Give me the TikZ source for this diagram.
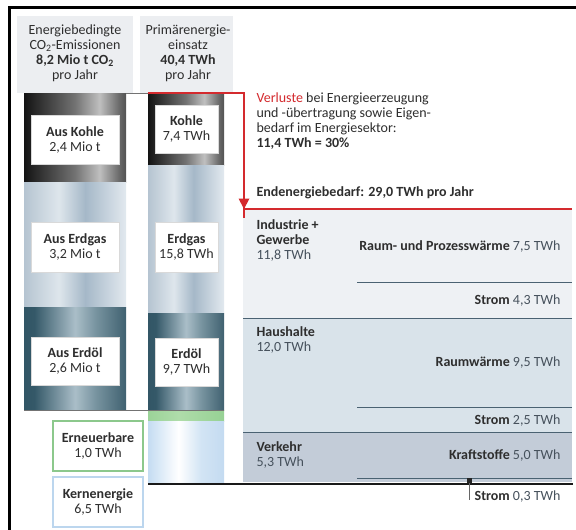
\documentclass[tikz,border=0pt]{standalone}
\usepackage{fontspec}
\setmainfont{Carlito}
\usetikzlibrary{arrows.meta}
\definecolor{hdrbg}{HTML}{ECEEF1}
\definecolor{txt}{HTML}{2E2E2E}
\definecolor{val}{HTML}{46515C}
\definecolor{redl}{HTML}{D42A2E}
\definecolor{indbg}{HTML}{EEF1F4}
\definecolor{haubg}{HTML}{D9E3EA}
\definecolor{verbg}{HTML}{C3CCD8}
\definecolor{divl}{HTML}{4A6272}
\definecolor{greenb}{HTML}{8CC88C}
\definecolor{blueb}{HTML}{BCD6EE}
\pgfdeclarehorizontalshading{coalsh}{100bp}{color(0bp)=(black); color(20bp)=(black); color(50bp)=(black!55); color(62bp)=(white!75!black); color(72bp)=(black!60); color(88bp)=(black); color(100bp)=(black)}
\pgfdeclarehorizontalshading{gassh}{100bp}{color(0bp)=({rgb,255:red,128;green,150;blue,170}); color(12bp)=({rgb,255:red,150;green,170;blue,188}); color(42bp)=({rgb,255:red,222;green,230;blue,236}); color(55bp)=({rgb,255:red,165;green,184;blue,200}); color(75bp)=({rgb,255:red,226;green,233;blue,239}); color(90bp)=({rgb,255:red,150;green,170;blue,188}); color(100bp)=({rgb,255:red,128;green,150;blue,170})}
\pgfdeclarehorizontalshading{oilsh}{100bp}{color(0bp)=({rgb,255:red,40;green,74;blue,90}); color(30bp)=({rgb,255:red,52;green,88;blue,104}); color(50bp)=({rgb,255:red,170;green,190;blue,200}); color(60bp)=({rgb,255:red,120;green,148;blue,160}); color(80bp)=({rgb,255:red,45;green,80;blue,96}); color(100bp)=({rgb,255:red,38;green,70;blue,86})}
\pgfdeclarehorizontalshading{nucsh}{100bp}{color(0bp)=({rgb,255:red,182;green,210;blue,238}); color(25bp)=({rgb,255:red,196;green,220;blue,242}); color(45bp)=(white); color(60bp)=({rgb,255:red,210;green,228;blue,244}); color(85bp)=({rgb,255:red,186;green,212;blue,238}); color(100bp)=({rgb,255:red,176;green,206;blue,236})}
\pgfdeclarehorizontalshading{greensh}{100bp}{color(0bp)=({rgb,255:red,130;green,200;blue,130}); color(45bp)=({rgb,255:red,175;green,220;blue,170}); color(100bp)=({rgb,255:red,130;green,200;blue,130})}
\tikzset{
  basefont/.style={font=\fontsize{14}{15}\selectfont},
  colbox/.style={fill=white, draw=black!15, line width=0.4pt, align=center, text=txt, inner sep=0pt},
  hdr/.style={align=center, text=txt, basefont},
  lefttxt/.style={anchor=west, align=left, text=txt, basefont},
  righttxt/.style={anchor=east, align=right, text=txt, basefont},
  divider/.style={draw=divl, line width=0.9pt},
  redline/.style={draw=redl, line width=1.4pt},
  srcbox/.style={fill=white, line width=1.3pt, align=center, text=txt, inner sep=0pt, minimum width=90pt, minimum height=50pt, basefont}
}
\newcommand{\vv}[1]{{\color{val}#1}}
\begin{document}
\begin{tikzpicture}[x=1pt,y=-1pt]
\useasboundingbox (0,0) rectangle (576,530);
\fill[white] (0,0) rectangle (576,530);
% frame
\draw[line width=2.6pt] (9.3,530) -- (9.3,7.5) -- (576,7.5);
% header backgrounds
\fill[hdrbg] (17,16) rectangle (133,93);
\fill[hdrbg] (140,16) rectangle (233,93);
\node[hdr] (h1) at (75,53.5) {Energiebedingte\\CO\textsubscript{2}-Emissionen\\\textbf{8,2 Mio t CO\textsubscript{2}}\\pro Jahr};
\node[hdr] (h2) at (188,53.5) {Primärenergie-\\einsatz\\\textbf{40,4 TWh}\\pro Jahr};
% column 1
\shade[shading=coalsh] (24,93) rectangle (126,182);
\shade[shading=gassh] (24,182) rectangle (126,307);
\shade[shading=oilsh] (24,307) rectangle (126,410);
% column 2
\shade[shading=coalsh] (148,93) rectangle (224,165);
\shade[shading=gassh] (148,165) rectangle (224,313);
\shade[shading=oilsh] (148,313) rectangle (224,410);
\shade[shading=greensh] (148,410) rectangle (224,421);
\shade[shading=nucsh] (148,421) rectangle (224,482);
% thin gray lines
\coordinate (c1top) at (126,93);
\coordinate (c2top) at (148,93);
\draw[black!55, line width=0.6pt] (c1top) -- (c2top);
\coordinate (c1bot) at (24,410.5);
\coordinate (c2bot) at (224,410.5);
\draw[black!55, line width=0.6pt] (c1bot) -- (c2bot);
% boxes column 1
\node[colbox, minimum width=88pt, minimum height=49pt, basefont] (k1) at (75,139.5) {\textbf{Aus Kohle}\\2,4 Mio t};
\node[colbox, minimum width=88pt, minimum height=50pt, basefont] (g1) at (75,247) {\textbf{Aus Erdgas}\\3,2 Mio t};
\node[colbox, minimum width=88pt, minimum height=48pt, basefont] (o1) at (75,361) {\textbf{Aus Erdöl}\\2,6 Mio t};
% boxes column 2
\node[colbox, minimum width=63pt, minimum height=48pt, basefont] (k2) at (186.5,129) {\textbf{Kohle}\\7,4 TWh};
\node[colbox, minimum width=63pt, minimum height=50pt, basefont] (g2) at (186.5,247) {\textbf{Erdgas}\\15,8 TWh};
\node[colbox, minimum width=63pt, minimum height=48pt, basefont] (o2) at (186.5,362) {\textbf{Erdöl}\\9,7 TWh};
% source boxes
\node[srcbox, draw=greenb] (ern) at (98,446) {\textbf{Erneuerbare}\\1,0 TWh};
\node[srcbox, draw=blueb] (kern) at (98,502) {\textbf{Kernenergie}\\6,5 TWh};
% right panels
\fill[indbg] (243,209) rectangle (572,318);
\fill[haubg] (243,318) rectangle (572,432);
\fill[verbg] (243,432) rectangle (572,482);
\draw[divider] (243,318) -- (572,318);
\draw[divider] (243,432) -- (572,432);
\draw[divider] (357,282) -- (572,282);
\draw[divider] (357,407) -- (572,407);
\draw[divider] (357,478) -- (572,478);
% red loss arrow
\coordinate (rcorner) at (244,93);
\coordinate (rend) at (244,209);
\coordinate (rright) at (572,209);
\draw[redline] (c2top) -- (rcorner) -- ([yshift=-9pt]rend);
\fill[redl] (rend) -- ++(-5.5,-10.5) -- ++(11,0) -- cycle;
\draw[redline] (243,209) -- (rright);
% black base line
\coordinate (bl) at (148,484);
\coordinate (br) at (573,484);
\draw[line width=2.4pt, black!90] (bl) -- (br);
% Strom 0,3 marker
\coordinate (mk) at (469,481);
\coordinate (mkd) at (469,500);
\draw[black!60, line width=0.7pt] (mk) -- (mkd);
\fill[black!85] (466.5,478) rectangle (471.5,483);
% texts right
\node[lefttxt] (verl) at (253,121.5) {{\color{redl}Verluste} bei Energieerzeugung\\und -übertragung sowie Eigen-\\bedarf im Energiesektor:\\\textbf{11,4 TWh = 30\%}};
\node[lefttxt] (end) at (253,193) {\textbf{Endenergiebedarf: 29,0 TWh pro Jahr}};
\node[lefttxt] (ind) at (253,240) {\textbf{Industrie +}\\\textbf{Gewerbe}\\\vv{11,8 TWh}};
\node[righttxt] (rpw) at (564,246) {\textbf{Raum- und Prozesswärme} \vv{7,5 TWh}};
\node[righttxt] (s1) at (564,301) {\textbf{Strom} \vv{4,3 TWh}};
\node[lefttxt] (hh) at (253,339.5) {\textbf{Haushalte}\\\vv{12,0 TWh}};
\node[righttxt] (rw) at (564,363) {\textbf{Raumwärme} \vv{9,5 TWh}};
\node[righttxt] (s2) at (564,421) {\textbf{Strom} \vv{2,5 TWh}};
\node[lefttxt] (vk) at (253,454.5) {\textbf{Verkehr}\\\vv{5,3 TWh}};
\node[righttxt] (kf) at (564,455) {\textbf{Kraftstoffe} \vv{5,0 TWh}};
\node[righttxt] (s3) at (564,497) {\textbf{Strom} \vv{0,3 TWh}};
\end{tikzpicture}
\end{document}
